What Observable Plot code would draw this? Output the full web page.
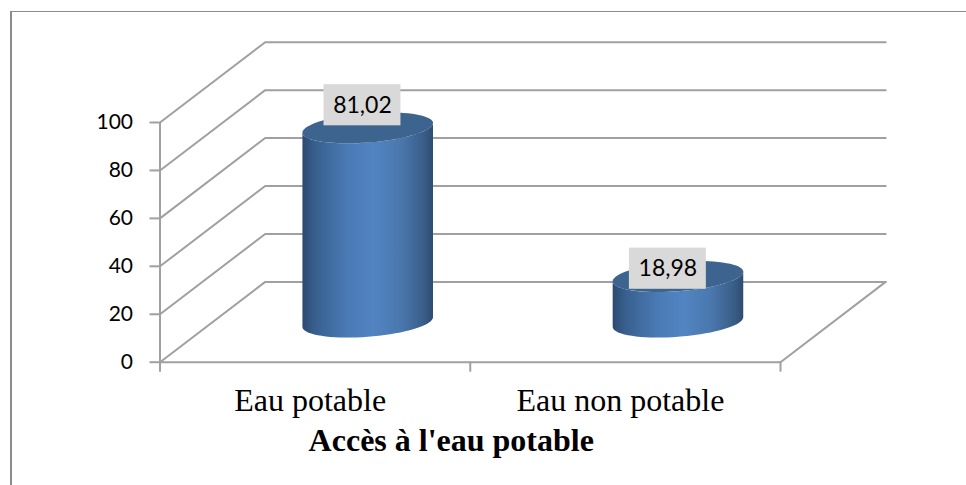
<!DOCTYPE html>
<html lang="fr">
<head>
<meta charset="utf-8">
<script src="https://cdn.jsdelivr.net/npm/d3@7"></script>
<script src="https://cdn.jsdelivr.net/npm/@observablehq/plot@0.6"></script>
<style>
html,body{margin:0;padding:0;background:#fff;overflow:hidden}
#chart{position:relative;width:966px;height:485px}
#chart svg{display:block}
#frame{position:absolute;left:10px;top:11px;right:0;bottom:0;border-left:2px solid #8c8c8c;border-top:1.5px solid #8c8c8c;pointer-events:none}
</style>
</head>
<body>
<div id="chart"><div id="frame"></div></div>
<script>
// Chart values
const categories = ["Eau potable", "Eau non potable"];
const values = [81.02, 18.98];
const valueLabels = ["81,02", "18,98"];
const yTicks = [0, 20, 40, 60, 80, 100];
const xTicks = [0, 1, 2];
const title = "Accès à l'eau potable";

// Oblique projection of the 3D box, in data units
const depthX = 0.339;   // x units for the full depth
const depthY = 33.5;    // value units for the full depth
const radiusX = 0.2;    // cylinder half width
const radiusDepth = 0.193; // cylinder radius as share of depth
const xMax = categories.length;

// Back wall and floor
const gridLines = yTicks.flatMap(v => [
  {v, x: 0, y: v},
  {v, x: depthX, y: v + depthY},
  {v, x: xMax + depthX, y: v + depthY}
]);
const floorFront = [
  {x: 0, y: 0},
  {x: xMax, y: 0},
  {x: xMax + depthX, y: depthY}
];

// A point of a cylinder's circular cross-section at height v
const rim = (i, v, t) => ({
  x: i + 0.5 + depthX / 2 + radiusX * Math.cos(t) + radiusDepth * depthX * Math.sin(t),
  y: v + depthY / 2 + radiusDepth * depthY * Math.sin(t)
});
const turn = d3.range(0, 73).map(k => (k / 72) * 2 * Math.PI);
// angle where the projected ellipse reaches its right-hand edge
const edge = Math.atan2(radiusDepth * depthX, radiusX);
const lowerArc = d3.range(0, 37).map(k => edge - (k / 36) * Math.PI);

const bodies = values.flatMap((v, i) => [
  ...lowerArc.map(t => ({i, ...rim(i, 0, t)})),
  ...lowerArc.slice().reverse().map(t => ({i, ...rim(i, v, t)}))
]);
const caps = values.flatMap((v, i) => turn.map(t => ({i, ...rim(i, v, t)})));

// Value label boxes (placed as in the original, not always centred on the bar)
const labelBoxes = [
  {x: 0.6526, y: 107.2, text: valueLabels[0]},
  {x: 1.637, y: 39, text: valueLabels[1]}
];
const boxHalfW = 0.124, boxHalfH = 8.58;

const grey = "#a0a0a0";
const gradient = () => {
  const defs = d3.create("svg:defs");
  const g = defs.append("linearGradient").attr("id", "cyl").attr("x1", 0).attr("x2", 1).attr("y1", 0).attr("y2", 0);
  [[0, "#2c4a70"], [0.1, "#38608f"], [0.35, "#4a7bb5"], [0.55, "#5284c2"], [0.75, "#4a78ae"], [0.92, "#3a5f8a"], [1, "#304c70"]]
    .forEach(([o, c]) => g.append("stop").attr("offset", o).attr("stop-color", c));
  return defs.node();
};

const plot = Plot.plot({
  width: 966,
  height: 485,
  marginLeft: 159.5,
  marginRight: 186,
  marginTop: 122,
  marginBottom: 123.3,
  style: {background: "transparent", overflow: "visible"},
  x: {type: "linear", domain: [0, xMax]},
  y: {type: "linear", domain: [0, 100]},
  marks: [
    gradient,
    Plot.line(gridLines, {x: "x", y: "y", z: "v", stroke: grey, strokeWidth: 2}),
    Plot.line(floorFront, {x: "x", y: "y", stroke: grey, strokeWidth: 2}),
    Plot.ruleX(xTicks.slice(0, 1), {y1: () => 0, y2: () => 100, stroke: grey, strokeWidth: 2}),
    Plot.axisY({
      ticks: yTicks, tickSize: 10, tickPadding: 17, stroke: grey, strokeWidth: 2, label: null,
      fontSize: 21, fontFamily: "Lato", color: "#000", tickFormat: d => String(d)
    }),
    Plot.axisX({ticks: xTicks, tickSize: 10, tickFormat: () => "", stroke: grey, strokeWidth: 2, label: null}),
    Plot.line(bodies, {x: "x", y: "y", z: "i", fill: "url(#cyl)", stroke: "none"}),
    Plot.line(caps, {x: "x", y: "y", z: "i", fill: "#3d648f", stroke: "none"}),
    Plot.rect(labelBoxes, {
      x1: d => d.x - boxHalfW, x2: d => d.x + boxHalfW,
      y1: d => d.y - boxHalfH, y2: d => d.y + boxHalfH,
      fill: "#d9d9d9"
    }),
    Plot.text(labelBoxes, {x: "x", y: "y", text: "text", fontSize: 23, fontFamily: "Lato", fill: "#000"}),
    Plot.text(categories, {
      x: (d, i) => i + 0.5, y: () => 0, text: d => d, dx: -5, dy: 39,
      fontSize: 32, fontFamily: "Liberation Serif", fill: "#000"
    }),
    Plot.text([title], {
      x: () => xMax / 2, y: () => 0, text: d => d, dx: -19, dy: 79,
      fontSize: 32, fontWeight: "bold", fontFamily: "Liberation Serif", fill: "#000"
    })
  ]
});
document.getElementById("chart").prepend(plot);
</script>
</body>
</html>
